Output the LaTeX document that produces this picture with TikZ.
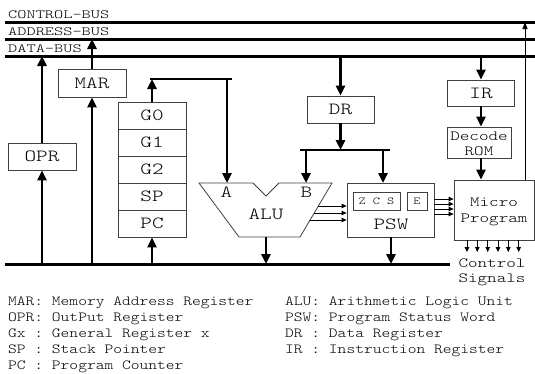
\documentclass[tikz,border=0pt]{standalone}
\usepackage{fontspec}
\setmainfont{Liberation Serif}
\newfontfamily\monoL[FakeStretch=1.2]{lmmonolt10-regular.otf}
\newfontfamily\monoS[FakeStretch=1.3]{lmmonolt10-regular.otf}
\newfontfamily\monoB[FakeStretch=1.4]{lmmonolt10-regular.otf}
\usetikzlibrary{arrows.meta}
\frenchspacing
\begin{document}
\begin{tikzpicture}[x=1pt,y=-1pt,
  box/.style={draw=black!75,line width=0.8pt,inner sep=0pt,font=\monoS\fontsize{17}{20}\selectfont},
  sbox/.style={draw=black!75,line width=0.8pt,inner sep=0pt},
  mid/.style={font=\monoS\fontsize{14}{16}\selectfont,inner sep=0pt},
  tiny/.style={font=\monoS\fontsize{10.5}{12}\selectfont},
  big/.style={font=\monoS\fontsize{17}{20}\selectfont,inner sep=0pt},
  leg/.style={font=\monoL\fontsize{13.9}{16}\selectfont,inner sep=0pt,anchor=base west},
  buslab/.style={font=\monoB\fontsize{12.5}{15}\selectfont,inner sep=0pt,anchor=base west},
  bus/.style={line width=3pt},
  wire/.style={line width=2.6pt},
  arr/.style={line width=2.6pt,-{Triangle[length=10pt,width=9pt]}},
  sarr/.style={line width=0.9pt,-{Triangle[length=5pt,width=4.5pt]}},
  rarr/.style={line width=1pt,-{Triangle[length=7pt,width=5pt]}}
]
\useasboundingbox (0,0) rectangle (535,373);

% buses
\coordinate (cb) at (0,22);
\coordinate (ab) at (0,39);
\coordinate (db) at (0,56);
\coordinate (bb) at (0,264);
\draw[bus] (5,22) -- (535,22);
\draw[bus] (5,39) -- (535,39);
\draw[bus] (5,56) -- (535,56);
\draw[bus] (5,264) -- (450,264);
\node[buslab] (lcb) at (8,18.5) {CONTROL-BUS};
\node[buslab] (lad) at (8,35.5) {ADDRESS-BUS};
\node[buslab] (ldb) at (8,52.5) {DATA-BUS};

% registers
\node[box,minimum width=68pt,minimum height=28pt] (mar) at (92,83) {MAR};
\node[box,minimum width=68pt,minimum height=27pt] (opr) at (42,156.5) {OPR};
\node[box,minimum width=68pt,minimum height=27pt] (g0) at (152,115.5) {G0};
\node[box,minimum width=68pt,minimum height=27pt] (g1) at (152,142.5) {G1};
\node[box,minimum width=68pt,minimum height=27pt] (g2) at (152,169.5) {G2};
\node[box,minimum width=68pt,minimum height=27pt] (sp) at (152,196.5) {SP};
\node[box,minimum width=68pt,minimum height=27pt] (pc) at (152,223.5) {PC};
\node[box,minimum width=67pt,minimum height=27pt] (dr) at (340.5,109.5) {DR};
\node[box,minimum width=67pt,minimum height=26pt] (ir) at (481,93) {IR};
\node[sbox,minimum width=64pt,minimum height=31pt] (dec) at (479,142.5) {};
\node[mid,anchor=base] (dec1) at (479,140) {Decode};
\node[mid,anchor=base] (dec2) at (479,155.3) {ROM};
\node[sbox,minimum width=80pt,minimum height=60pt] (mp) at (494,210) {};
\node[mid,anchor=base] (mp1) at (494,206.7) {Micro};
\node[mid,anchor=base] (mp2) at (494,222.7) {Program};
\node[sbox,minimum width=87pt,minimum height=54pt] (psw) at (390.5,210) {};
\node[big] (pswT) at (391,224) {PSW};
\node[sbox,tiny,minimum width=47pt,minimum height=18pt] (zcs) at (376.5,201) {Z C S};
\node[sbox,tiny,minimum width=20pt,minimum height=18pt] (flagE) at (417,201) {E};

% ALU
\draw[line width=0.8pt,draw=black!75] (199,183) -- (253,183) -- (266,196) -- (279,183) -- (332,183) -- (300,237) -- (239,237) -- cycle;
\coordinate (aluA) at (227,183);
\coordinate (aluB) at (306,183);
\coordinate (aluO) at (266,237);
\node[big] (aluT) at (266,214) {ALU};
\node[big] (lA) at (226.5,192.5) {A};
\node[big] (lB) at (306.3,192.5) {B};

% OPR, MAR
\draw[arr] (opr.north) -- (opr.north |- db);
\draw[arr] (opr.south |- bb) -- (opr.south);
\draw[arr] (mar.north) -- (mar.north |- ab);
\draw[arr] (mar.south |- bb) -- (mar.south);

% G stack to ALU A
\coordinate (gbarL) at (150,79);
\coordinate (gbarR) at (232,79);
\draw[wire] (gbarL) -- (gbarR);
\draw[arr] (g0.north) -- (g0.north |- gbarL);
\draw[arr] (aluA |- gbarL) -- (aluA);
\draw[arr] (pc.south |- bb) -- (pc.south);
\draw[arr] (aluO) -- (aluO |- bb);

% DR
\draw[arr] (dr.north |- db) -- (dr.north);
\coordinate (dbarL) at (300,150);
\coordinate (dbarR) at (390,150);
\draw[wire] (dbarL) -- (dbarR);
\draw[arr] (dr.south) -- (dr.south |- dbarL);
\draw[arr] (aluB |- dbarL) -- (aluB);
\coordinate (pswIn) at (383,183);
\draw[arr] (pswIn |- dbarL) -- (pswIn);
\coordinate (pswOut) at (391,237);
\draw[arr] (pswOut) -- (pswOut |- bb);

% IR, decode, micro program
\draw[arr] (ir.north |- db) -- (ir.north);
\draw[arr] (ir.south) -- (ir.south |- dec.north);
\draw[arr] (ir.south |- dec.south) -- (ir.south |- mp.north);
\coordinate (cret) at (525,180);
\draw[rarr] (cret) -- (cret |- cb);

% ALU -> PSW
\foreach \yy/\xx in {206/318.4,213/314.2,220/310.1}{
  \coordinate (tA) at (\xx,\yy);
  \draw[sarr] (tA) -- (psw.west |- tA);
}
% PSW -> Micro Program
\foreach \yy in {199,204,209,214}{
  \coordinate (tP) at (0,\yy);
  \draw[sarr] (psw.east |- tP) -- (mp.west |- tP);
}
% control signals
\foreach \xx in {467,477.3,487.7,498,508.3,518.7}{
  \coordinate (tC) at (\xx,252);
  \draw[sarr] (mp.south -| tC) -- (tC);
}
\node[mid,anchor=base] (cs1) at (492,267) {Control};
\node[mid,anchor=base] (cs2) at (492,282.5) {Signals};

% legend
\node[leg] (l1) at (8,305.5) {MAR: Memory Address Register};
\node[leg] (l2) at (8,321.5) {OPR: OutPut Register};
\node[leg] (l3) at (8,337.5) {Gx : General Register x};
\node[leg] (l4) at (8,353.5) {SP : Stack Pointer};
\node[leg] (l5) at (8,369.5) {PC : Program Counter};
\node[leg] (r1) at (285,305.5) {ALU: Arithmetic Logic Unit};
\node[leg] (r2) at (285,321.5) {PSW: Program Status Word};
\node[leg] (r3) at (285,337.5) {DR : Data Register};
\node[leg] (r4) at (285,353.5) {IR : Instruction Register};
\end{tikzpicture}
\end{document}
